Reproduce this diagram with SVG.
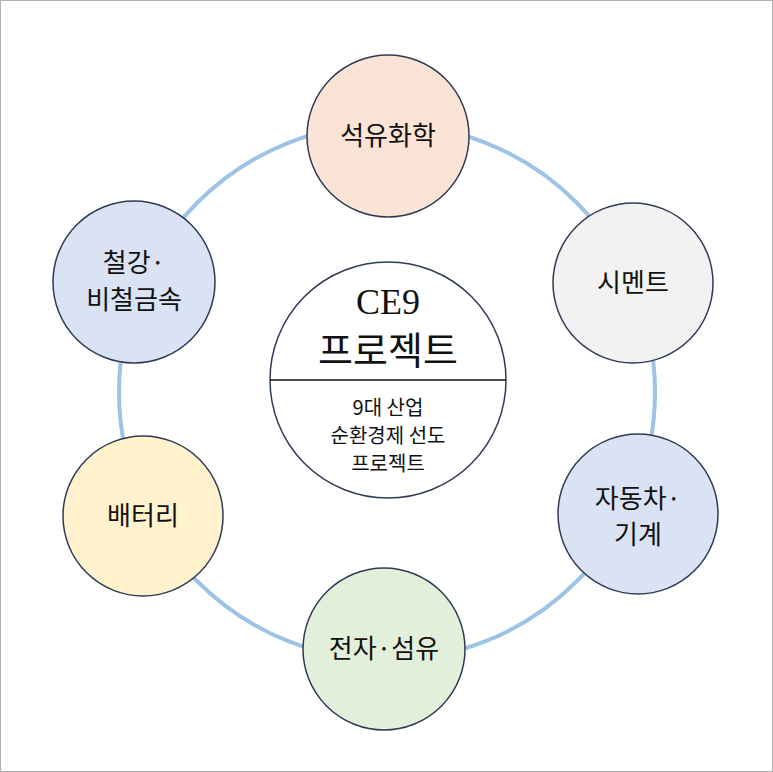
<svg xmlns="http://www.w3.org/2000/svg" width="773" height="772" viewBox="0 0 773 772">
<style>
.n{stroke:#2f3a55;stroke-width:1.5}
.t{font-family:"Noto Sans CJK KR","Noto Sans",sans-serif;font-size:26px;fill:#111;text-anchor:middle}
.s{font-family:"Noto Sans CJK KR","Noto Sans",sans-serif;font-size:20px;fill:#111;text-anchor:middle}
</style>
<rect x="0.5" y="0.5" width="772" height="771" fill="#fff" stroke="#b0b0b0"/>
<g id="connectors"><circle cx="387" cy="392" r="268" fill="none" stroke="#9dc3e6" stroke-width="4"/></g>
<g id="center"><circle cx="388" cy="380" r="118" fill="#fff" class="n"/>
<line x1="270" y1="380" x2="506" y2="380" stroke="#111" stroke-width="1.5"/>
<text x="388" y="314" text-anchor="middle" font-family="Liberation Serif,serif" font-size="36" fill="#111">CE9</text>
<text x="388" y="364" class="t" style="font-size:38px">프로젝트</text>
<text x="388" y="415" class="s">9대 산업</text>
<text x="388" y="443" class="s">순환경제 선도</text>
<text x="388" y="471" class="s">프로젝트</text></g>
<g id="n1"><circle cx="388" cy="136" r="81" fill="#fbe3d6" class="n"/><text x="388" y="145" class="t">석유화학</text></g>
<g id="n2"><circle cx="633" cy="283" r="80" fill="#f2f2f2" class="n"/><text x="633" y="292" class="t">시멘트</text></g>
<g id="n3"><circle cx="638" cy="514" r="80" fill="#dae3f3" class="n"/><text x="638" y="508" class="t">자동차·</text><text x="638" y="544" class="t">기계</text></g>
<g id="n4"><circle cx="384" cy="649" r="81" fill="#e2efda" class="n"/><text x="384" y="658" class="t">전자·섬유</text></g>
<g id="n5"><circle cx="143" cy="516" r="80" fill="#fff2cc" class="n"/><text x="143" y="525" class="t">배터리</text></g>
<g id="n6"><circle cx="134" cy="282" r="81" fill="#dae3f3" class="n"/><text x="134" y="272" class="t">철강·</text><text x="134" y="309" class="t">비철금속</text></g>
</svg>
